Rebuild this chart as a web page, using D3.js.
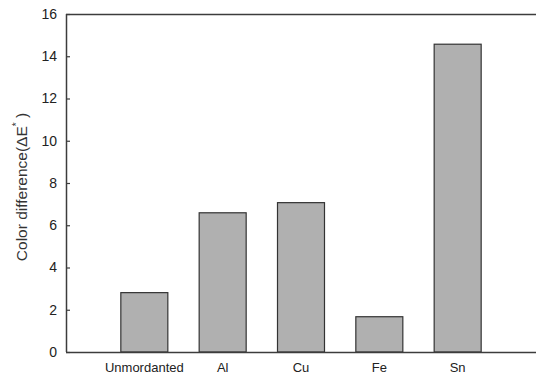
<!DOCTYPE html>
<html>
<head>
<meta charset="utf-8">
<script src="https://cdn.jsdelivr.net/npm/d3@7"></script>
<style>
  html, body { margin: 0; padding: 0; background: #fff; }
  svg { display: block; font-family: Arial, "Liberation Sans", sans-serif; }
</style>
</head>
<body>
<svg id="chart" width="536" height="376"></svg>
<script>
// Colour difference after mordanting
const categories = ["Unmordanted", "Al", "Cu", "Fe", "Sn"];
const deltaE = [2.81, 6.59, 7.07, 1.67, 14.57];
const yTicks = [0, 2, 4, 6, 8, 10, 12, 14, 16];

const svg = d3.select("#chart");
const margin = { left: 66, right: 0, top: 14, bottom: 24 };
const W = 536, H = 376;
const plotW = W - margin.left - margin.right;
const plotH = H - margin.top - margin.bottom;

// categories sit at positions 1..n on a linear axis running 0..n+1
const x = d3.scaleLinear().domain([0, categories.length + 1]).range([margin.left, margin.left + plotW]);
const y = d3.scaleLinear().domain([0, 16]).range([margin.top + plotH, margin.top]);
const barW = 0.6;

const axisColor = "#3c3c3c";

// bars
svg.append("g").selectAll("rect")
  .data(deltaE)
  .join("rect")
  .attr("x", (d, i) => x(i + 1 - barW / 2))
  .attr("width", (d, i) => x(i + 1 + barW / 2) - x(i + 1 - barW / 2))
  .attr("y", d => y(d))
  .attr("height", d => y(0) - y(d))
  .attr("fill", "#b0b0b0")
  .attr("stroke", "#333")
  .attr("stroke-width", 1.2);

// top frame line
svg.append("line")
  .attr("x1", margin.left).attr("x2", W)
  .attr("y1", y(16) + 0.5).attr("y2", y(16) + 0.5)
  .attr("stroke", axisColor).attr("stroke-width", 1.5);

// y axis with inward ticks
const yAxis = d3.axisRight(y).tickValues(yTicks).tickSize(4).tickFormat(d3.format("d"));
const gy = svg.append("g").attr("transform", `translate(${margin.left},0)`).call(yAxis);
gy.attr("font-size", null).attr("font-family", null);
gy.select(".domain").attr("stroke", axisColor).attr("stroke-width", 1.5)
  .attr("d", `M0.5,${y(16)}V${y(0)}`);
gy.selectAll(".tick line").attr("stroke", axisColor).attr("stroke-width", 1.2);
gy.selectAll(".tick text")
  .attr("x", -9).attr("text-anchor", "end")
  .attr("fill", "#222").attr("font-size", 14);

// x axis baseline and category labels
svg.append("line")
  .attr("x1", margin.left).attr("x2", W)
  .attr("y1", y(0) + 0.5).attr("y2", y(0) + 0.5)
  .attr("stroke", axisColor).attr("stroke-width", 1.5);

svg.append("g").selectAll("text")
  .data(categories)
  .join("text")
  .attr("x", (d, i) => x(i + 1))
  .attr("y", y(0) + 20)
  .attr("text-anchor", "middle")
  .attr("font-size", 13)
  .attr("fill", "#222")
  .text(d => d);

// y axis title
const title = svg.append("text")
  .attr("transform", `translate(27,${(y(0) + y(16)) / 2 + 4}) rotate(-90)`)
  .attr("text-anchor", "middle")
  .attr("font-size", 15.5)
  .attr("fill", "#333");
title.append("tspan").text("Color difference(ΔE");
title.append("tspan").attr("dy", -7).attr("font-size", 10).text("*");
title.append("tspan").attr("dy", 7).text(" )");
</script>
</body>
</html>
